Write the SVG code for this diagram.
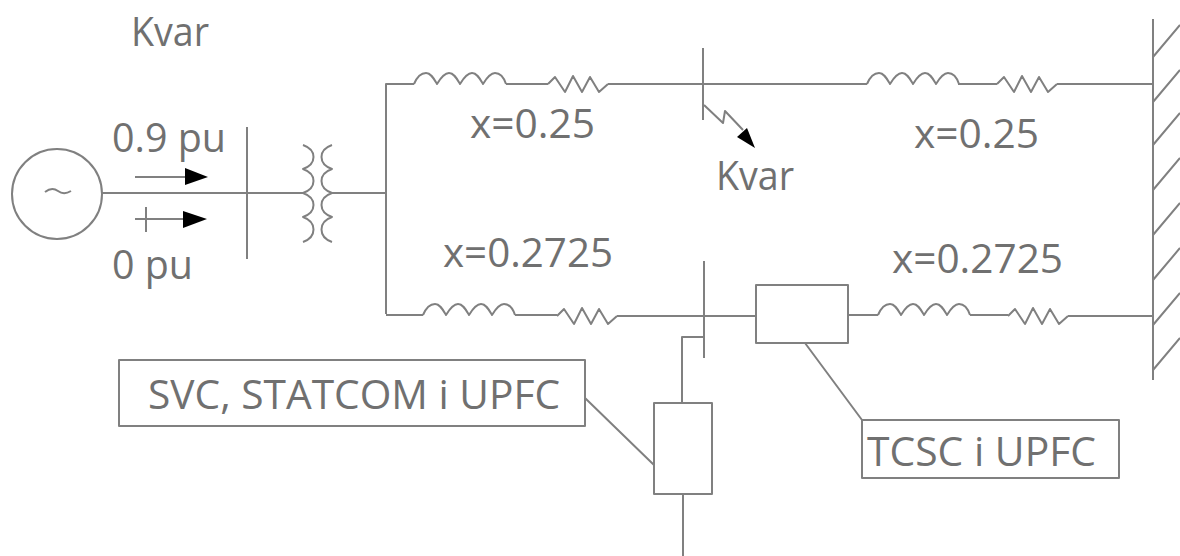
<svg xmlns="http://www.w3.org/2000/svg" xmlns:xlink="http://www.w3.org/1999/xlink" width="1180" height="556" viewBox="0 0 1180 556">
<style>
.l{fill:none;stroke:#808080;stroke-width:2;stroke-linejoin:round}
.t{fill:#707070;font-family:"Open Sans","Noto Sans","Liberation Sans",sans-serif;font-size:40px}
.h{fill:#000}
</style>
<defs>
<path id="ind" class="l" d="M0 0C3-7 7-11 12-11C17-11 20-5 23 0C26-5 30-11 35-11C40-11 43-5 46 0C49-5 53-11 58-11C63-11 66-5 69 0C72-5 76-11 81-11C87-11 90-6 92 0"/>
<path id="res" class="l" d="M0 0L7-7L17 8L25-8L34 8L42-7L51 8L60 0"/>
</defs>
<rect width="1180" height="556" fill="#fff"/>
<g id="connectors">
<path class="l" d="M102 193H303M331 193H386M386 314V84H414M506 84H548M608 84H867M958 84H997M1057 84H1153"/>
<path class="l" d="M386 315H423M515 315H557M617 316H756M848 315H878M970 315H1008M1068 316H1153"/>
<path class="l" d="M704 337H682V403M683 494V556"/>
<path class="l" d="M585 398L654 465M805 343L862 420" />
</g>
<g id="source"><circle class="l" cx="57" cy="194" r="45"/><path class="l" d="M45 192C50 188 54 188 58 191C62 194 66 194 71 191"/></g>
<g id="label-kvar-top"><text class="t" x="131" y="46" textLength="78" lengthAdjust="spacingAndGlyphs">Kvar</text></g>
<g id="flow-p"><path class="l" d="M135 177H187"/><path class="h" d="M185 168L208 177L185 185Z"/><text class="t" x="112" y="152" textLength="114" lengthAdjust="spacingAndGlyphs">0.9 pu</text></g>
<g id="flow-q"><path class="l" d="M135 219H185M146 207V232"/><path class="h" d="M183 211L207 219L183 228Z"/><text class="t" x="112" y="279" textLength="81" lengthAdjust="spacingAndGlyphs">0 pu</text></g>
<g id="bus-gen"><path class="l" d="M247 127V259"/></g>
<g id="transformer"><path class="l" d="M303 145C317 150 317 164 303 169C317 174 317 188 303 193C317 198 317 212 303 217C317 222 317 237 303 242"/><path class="l" d="M332 145C318 150 318 164 332 169C318 174 318 188 332 193C318 198 318 212 332 217C318 222 318 237 332 242"/></g>
<g id="line-top-left"><use href="#ind" xlink:href="#ind" x="414" y="84"/><use href="#res" xlink:href="#res" x="548" y="84"/><text class="t" x="470" y="138" textLength="125" lengthAdjust="spacingAndGlyphs">x=0.25</text></g>
<g id="line-top-right"><use href="#ind" xlink:href="#ind" x="867" y="84"/><use href="#res" xlink:href="#res" x="997" y="84"/><text class="t" x="914" y="148" textLength="125" lengthAdjust="spacingAndGlyphs">x=0.25</text></g>
<g id="line-bottom-left"><use href="#ind" xlink:href="#ind" x="423" y="315"/><use href="#res" xlink:href="#res" x="557" y="316"/><text class="t" x="443" y="267" textLength="170" lengthAdjust="spacingAndGlyphs">x=0.2725</text></g>
<g id="line-bottom-right"><use href="#ind" xlink:href="#ind" x="878" y="315"/><use href="#res" xlink:href="#res" x="1008" y="316"/><text class="t" x="892" y="273" textLength="171" lengthAdjust="spacingAndGlyphs">x=0.2725</text></g>
<g id="bus-mid-top"><path class="l" d="M703 48V120"/></g>
<g id="load"><path class="l" d="M704 105L723 123L725 111L743 130"/><path class="h" d="M737 137L747 128L755 148Z"/><text class="t" x="716" y="190" textLength="78" lengthAdjust="spacingAndGlyphs">Kvar</text></g>
<g id="bus-mid-bottom"><path class="l" d="M704 261V358"/></g>
<g id="tcsc-box"><rect class="l" x="756" y="285" width="92" height="58"/></g>
<g id="shunt-box"><rect class="l" x="654" y="403" width="58" height="91"/></g>
<g id="label-svc"><rect class="l" x="119" y="360" width="466" height="66"/><text class="t" x="148" y="409" textLength="412" lengthAdjust="spacingAndGlyphs">SVC, STATCOM i UPFC</text></g>
<g id="label-tcsc"><rect class="l" x="862" y="420" width="257" height="58"/><text class="t" x="867" y="466" textLength="229" lengthAdjust="spacingAndGlyphs">TCSC i UPFC</text></g>
<g id="wall"><path class="l" d="M1153 19V380M1153 57L1180 25M1153 102L1180 70M1153 145L1180 113M1153 190L1180 158M1153 235L1180 203M1153 280L1180 248M1153 325L1180 293M1153 370L1180 338"/></g>
</svg>
